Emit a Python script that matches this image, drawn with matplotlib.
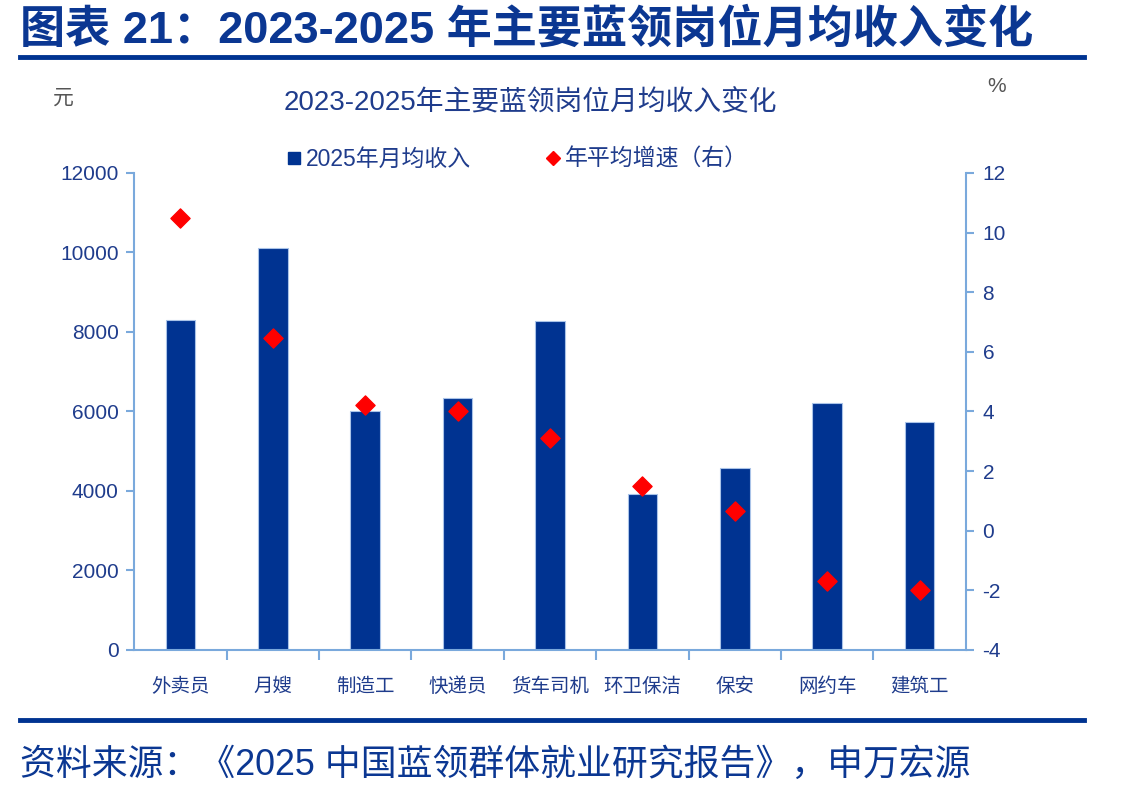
import numpy as np
import matplotlib
matplotlib.use("Agg")
import matplotlib.pyplot as plt
from matplotlib.lines import Line2D

plt.rcParams['font.family'] = ['Liberation Sans', 'Noto Sans CJK SC', 'DejaVu Sans']
plt.rcParams['axes.unicode_minus'] = False

# data
jobs = ["外卖员", "月嫂", "制造工", "快递员", "货车司机", "环卫保洁", "保安", "网约车", "建筑工"]
income_2025 = [8300, 10120, 6000, 6350, 8280, 3920, 4580, 6210, 5740]
growth = [10.5, 6.45, 4.2, 4.0, 3.1, 1.5, 0.65, -1.7, -2.0]

navy = "#003391"
axis_blue = "#7aa9dc"
text_blue = "#1f3c8c"

fig = plt.figure(figsize=(11.27, 7.97), dpi=100)

# header and rules
fig.text(0.018, 0.962, "图表 21：2023-2025 年主要蓝领岗位月均收入变化", fontsize=32.5,
         fontweight='bold', color="#0b3792", va='center', ha='left')
fig.add_artist(Line2D([0.018, 0.962], [0.928, 0.928], color=navy, lw=3.5))
fig.add_artist(Line2D([0.018, 0.962], [0.097, 0.097], color=navy, lw=3.5))
fig.text(0.018, 0.040, "资料来源：《2025 中国蓝领群体就业研究报告》，申万宏源", fontsize=25.8,
         color="#0b3792", va='center', ha='left')

ax = fig.add_axes([0.119, 0.1845, 0.738, 0.5985])
x = np.arange(len(jobs))
ax.bar(x, income_2025, width=0.32, color=navy, edgecolor="#a9c3e8", linewidth=0.8, zorder=2)
ax.set_xlim(-0.5, len(jobs) - 0.5)
ax.set_ylim(0, 12000)
ax.set_yticks(np.arange(0, 12001, 2000))
ax.set_xticks(x)
ax.set_xticklabels(jobs, fontsize=14, color=text_blue)
for lbl in ax.get_xticklabels():
    lbl.set_verticalalignment('baseline')
ax.set_xticks(np.arange(0.5, len(jobs) - 0.5, 1), minor=True)
ax.tick_params(axis='x', which='major', length=0, pad=30)
ax.tick_params(axis='x', which='minor', length=7, color=axis_blue, width=1.5)
ax.tick_params(axis='y', length=6, color=axis_blue, width=1.5, labelsize=15,
               labelcolor=text_blue, pad=5)
for s in ['top', 'right']:
    ax.spines[s].set_visible(False)
for s in ['left', 'bottom']:
    ax.spines[s].set_color(axis_blue)
    ax.spines[s].set_linewidth(1.5)

ax2 = ax.twinx()
ax2.scatter(x, growth, marker='D', s=95, color='#ff0000', zorder=3)
ax2.set_ylim(-4, 12)
ax2.set_yticks(np.arange(-4, 13, 2))
ax2.tick_params(axis='y', length=6, color=axis_blue, width=1.5, labelsize=15,
                labelcolor=text_blue, pad=6)
for s in ['top', 'left', 'bottom']:
    ax2.spines[s].set_visible(False)
ax2.spines['right'].set_color(axis_blue)
ax2.spines['right'].set_linewidth(1.5)

fig.text(0.471, 0.871, "2023-2025年主要蓝领岗位月均收入变化", fontsize=20,
         color=text_blue, ha='center', va='center')
fig.text(0.047, 0.877, "元", fontsize=15, color="#555555", ha='left', va='center')
fig.text(0.876, 0.892, "%", fontsize=15, color="#555555", ha='left', va='center')

handles = [Line2D([], [], marker='s', linestyle='none', color=navy, markersize=8),
           Line2D([], [], marker='D', linestyle='none', color='#ff0000', markersize=7)]
fig.legend(handles, ["2025年月均收入", "年平均增速（右）"], loc='center',
           bbox_to_anchor=(0.458, 0.800), ncol=2, frameon=False, fontsize=16.5,
           labelcolor=text_blue, handletextpad=0.1, columnspacing=3.2, handlelength=0.8)

fig.savefig("out.png", dpi=100)
